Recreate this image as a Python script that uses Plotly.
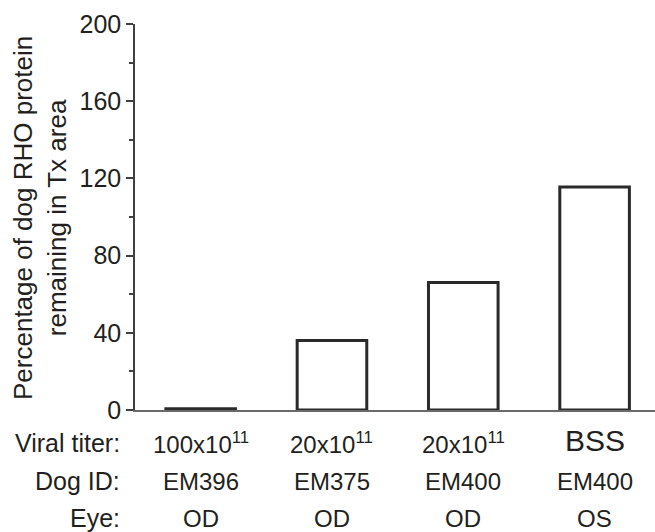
import plotly.graph_objects as go

categories = ["c1", "c2", "c3", "c4"]
values = [0.6, 36, 66, 115.5]
titer_labels = ["100x10<sup>11</sup>", "20x10<sup>11</sup>", "20x10<sup>11</sup>", "BSS"]
dog_labels = ["EM396", "EM375", "EM400", "EM400"]
eye_labels = ["OD", "OD", "OD", "OS"]
row_labels = ["Viral titer:", "Dog ID:", "Eye:"]
y_ticks = [0, 40, 80, 120, 160, 200]

FONT = "Liberation Sans, Arial, sans-serif"
TXT = "#231f20"

fig = go.Figure()
fig.add_trace(go.Bar(
    x=list(range(len(categories))), y=values, width=0.53,
    marker=dict(color="white", line=dict(color="#2a2a2a", width=3)),
))

L, R, T, B = 135, 0, 24, 122
W, H = 655, 532
ph = H - T - B
def py(p):
    return (H - B - p) / ph
def px(p):
    return (p - L) / (W - L - R)

ann = []
rows_y = [443, 481, 518]
for i in range(len(categories)):
    is_bss = titer_labels[i] == "BSS"
    ann.append(dict(x=i, y=py(rows_y[0] - (3 if is_bss else 0)), xref="x", yref="paper",
                    text=titer_labels[i], showarrow=False,
                    font=dict(size=30 if is_bss else 24, color=TXT, family=FONT),
                    xanchor="center", yanchor="middle"))
    ann.append(dict(x=i, y=py(rows_y[1]), xref="x", yref="paper", text=dog_labels[i], showarrow=False,
                    font=dict(size=24, color=TXT, family=FONT), xanchor="center", yanchor="middle"))
    ann.append(dict(x=i, y=py(rows_y[2]), xref="x", yref="paper", text=eye_labels[i], showarrow=False,
                    font=dict(size=24, color=TXT, family=FONT), xanchor="center", yanchor="middle"))
for j, lab in enumerate(row_labels):
    ann.append(dict(x=px(122), y=py(rows_y[j]), xref="paper", yref="paper", text=lab, showarrow=False,
                    font=dict(size=25, color=TXT, family=FONT), xanchor="right", yanchor="middle"))
ann.append(dict(x=px(40), y=py(218), xref="paper", yref="paper",
                text="Percentage of dog RHO protein<br>remaining in Tx area", textangle=-90,
                showarrow=False, font=dict(size=26, color=TXT, family=FONT),
                xanchor="center", yanchor="middle"))

fig.update_layout(
    width=W, height=H, margin=dict(l=L, r=R, t=T, b=B),
    paper_bgcolor="white", plot_bgcolor="white", showlegend=False,
    font=dict(family=FONT, color=TXT),
    annotations=ann,
    xaxis=dict(range=[-0.5, 3.46], showticklabels=False, ticks="", showgrid=False, zeroline=False,
               showline=True, linecolor="#6a6a6a", linewidth=1.5),
    yaxis=dict(range=[0, 200], tickvals=y_ticks, ticks="outside", ticklen=7, tickwidth=1.5,
               tickcolor="#404040", showline=True, linecolor="#404040", linewidth=1.5,
               showgrid=False, zeroline=False, tickfont=dict(size=25, color=TXT, family=FONT),
               minor=dict(dtick=20, tick0=0, ticks="outside", ticklen=4, tickwidth=1.5, tickcolor="#404040",
                          showgrid=False)),
)
fig.write_html("out.html")
